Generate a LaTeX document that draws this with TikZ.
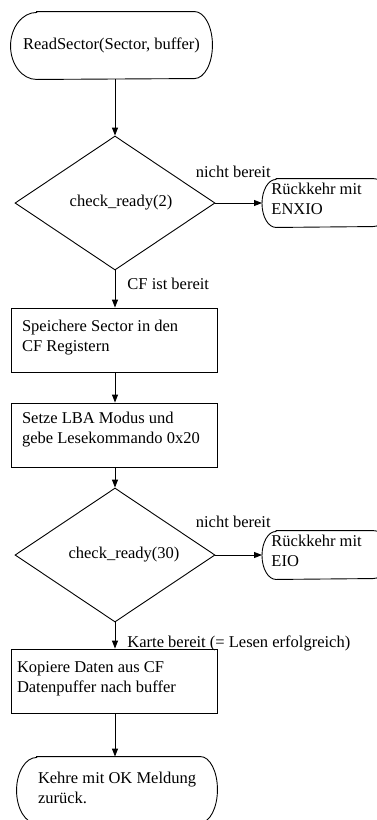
\documentclass[tikz,border=0pt]{standalone}
\usepackage{fontspec}
\setmainfont{Liberation Serif}
\usetikzlibrary{shapes.geometric,arrows.meta}
\newcommand\termpath[4]{%
  \draw ([xshift=#2]#1.north west) -- ([xshift=-#3]#1.north east)
    arc[start angle=90,end angle=-90,x radius=#3,y radius=#4]
    -- ([xshift=#2]#1.south west)
    arc[start angle=270,end angle=90,x radius=#2,y radius=#4] -- cycle;}
\begin{document}
\begin{tikzpicture}[x=1pt,y=-1pt,line width=0.9pt,
  every node/.style={font=\fontsize{16.5}{20}\selectfont,inner sep=0pt},
  arr/.style={-{Triangle[length=8pt,width=6pt]}},
  term/.style={rectangle,inner sep=0pt},
  dec/.style={diamond,draw,minimum width=200pt,minimum height=134pt,inner sep=0pt},
  box/.style={rectangle,draw,inner xsep=0pt,inner ysep=0pt,minimum width=206pt,text height=23pt,text depth=41pt},
  lab/.style={anchor=base west}]
\useasboundingbox (0,0) rectangle (377,820);
\clip (0,0) rectangle (377,820);
\fill[white] (0,0) rectangle (377,820);

% nodes
\node[term,minimum width=201pt,minimum height=67pt] (start) at (111.5,45.5) {ReadSector(Sector, buffer)};
\termpath{start}{26pt}{18pt}{33.5pt}

\node[dec,label={[xshift=6pt]center:check\_ready(2)}] (d1) at (115,203) {};

\node[term,anchor=west,text height=15pt,text depth=33pt] (e1) at (262,203)
  {\hspace*{9pt}\parbox[t]{119pt}{Rückkehr mit\\ENXIO}};
\termpath{e1}{14pt}{18pt}{24pt}

\node[box] (b1) at (114,340) {\hspace*{11pt}\parbox[t]{195pt}{Speichere Sector in den\\CF Registern}};

\node[box,text height=20pt,text depth=44pt] (b2) at (114,435) {\hspace*{11pt}\parbox[t]{195pt}{Setze LBA Modus und\\gebe Lesekommando 0x20}};

\node[dec,label={[xshift=9pt]center:check\_ready(30)}] (d2) at (115,555) {};

\node[term,anchor=west,text height=15pt,text depth=33pt] (e2) at (262,555)
  {\hspace*{9pt}\parbox[t]{119pt}{Rückkehr mit\\EIO}};
\termpath{e2}{14pt}{18pt}{24pt}

\node[box] (b3) at (114,681) {\hspace*{6pt}\parbox[t]{200pt}{Kopiere Daten aus CF\\Datenpuffer nach buffer}};

\node[term,text height=26pt,text depth=40pt] (end) at (117,790)
  {\hspace*{21pt}\parbox[t]{179pt}{Kehre mit OK Meldung\\zurück.}};
\termpath{end}{20pt}{17pt}{33pt}

% connectors
\draw[arr] (start.south -| d1.north) -- (d1.north);
\draw[arr] (d1.east) -- node[lab,at start,xshift=-20pt,yshift=26pt] {nicht bereit} (e1.west);
\draw[arr] (d1.south) -- node[lab,at start,xshift=12pt,yshift=-19pt] {CF ist bereit} (d1.south |- b1.north);
\draw[arr] (b1.south -| d1.south) -- (b2.north -| d1.south);
\draw[arr] (b2.south -| d2.north) -- (d2.north);
\draw[arr] (d2.east) -- node[lab,at start,xshift=-20pt,yshift=28pt] {nicht bereit} (e2.west);
\draw[arr] (d2.south) -- node[lab,at start,xshift=12pt,yshift=-25pt] {Karte bereit (= Lesen erfolgreich)} (d2.south |- b3.north);
\draw[arr] (b3.south -| d2.south) -- (end.north -| d2.south);
\end{tikzpicture}
\end{document}
